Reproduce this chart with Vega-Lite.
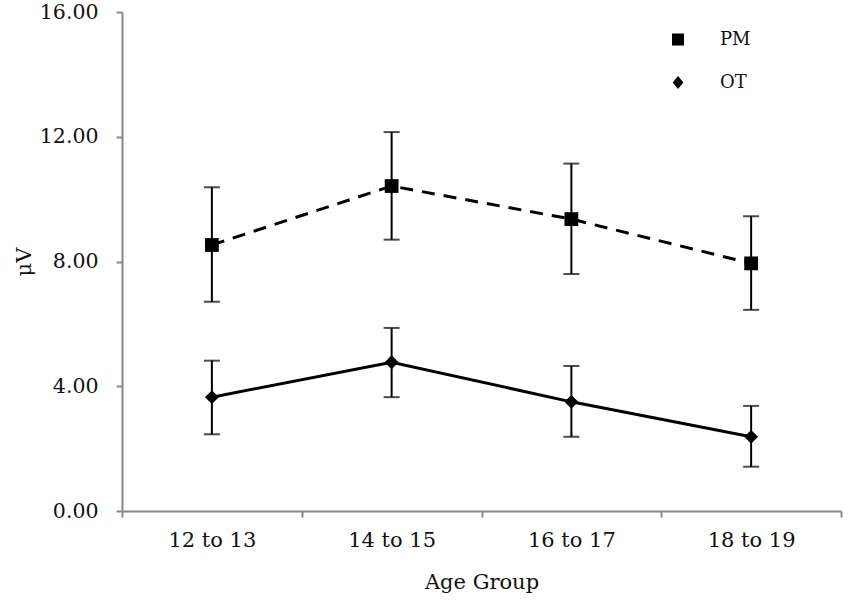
{
  "$schema": "https://vega.github.io/schema/vega-lite/v6.json",
  "width": 719,
  "height": 499,
  "autosize": {"type": "none"},
  "padding": {"left": 122, "top": 12, "right": 9, "bottom": 89},
  "background": "white",
  "data": {
    "values": [
      {"group": "12 to 13", "series": "PM", "mean": 8.53, "lo": 6.71, "hi": 10.38},
      {"group": "14 to 15", "series": "PM", "mean": 10.42, "lo": 8.70, "hi": 12.15},
      {"group": "16 to 17", "series": "PM", "mean": 9.36, "lo": 7.60, "hi": 11.14},
      {"group": "18 to 19", "series": "PM", "mean": 7.94, "lo": 6.45, "hi": 9.45},
      {"group": "12 to 13", "series": "OT", "mean": 3.65, "lo": 2.46, "hi": 4.82},
      {"group": "14 to 15", "series": "OT", "mean": 4.77, "lo": 3.65, "hi": 5.87},
      {"group": "16 to 17", "series": "OT", "mean": 3.50, "lo": 2.38, "hi": 4.65},
      {"group": "18 to 19", "series": "OT", "mean": 2.38, "lo": 1.42, "hi": 3.37}
    ]
  },
  "encoding": {
    "x": {
      "field": "group",
      "type": "ordinal",
      "sort": null,
      "scale": {"type": "band", "paddingInner": 0, "paddingOuter": 0},
      "axis": {
        "title": "Age Group",
        "labelAngle": 0,
        "labelFontSize": 21,
        "labelPadding": 12,
        "tickBand": "extent",
        "titleY": 77,
        "titleBaseline": "alphabetic"
      }
    }
  },
  "layer": [
    {
      "mark": {"type": "rule", "color": "black", "strokeWidth": 2},
      "encoding": {
        "y": {
          "field": "lo",
          "type": "quantitative",
          "scale": {"domain": [0, 16], "nice": false},
          "axis": {
            "title": "μV",
            "values": [0, 4, 8, 12, 16],
            "format": ".2f",
            "labelFontSize": 20.5,
            "labelPadding": 18,
            "titleX": -92,
            "titleBaseline": "alphabetic"
          }
        },
        "y2": {"field": "hi"}
      }
    },
    {
      "mark": {"type": "tick", "color": "black", "size": 16, "thickness": 2},
      "encoding": {"y": {"field": "lo", "type": "quantitative"}}
    },
    {
      "mark": {"type": "tick", "color": "black", "size": 16, "thickness": 2},
      "encoding": {"y": {"field": "hi", "type": "quantitative"}}
    },
    {
      "transform": [{"filter": "datum.series === 'PM'"}],
      "layer": [
        {
          "mark": {"type": "line", "color": "black", "strokeWidth": 3, "strokeDash": [13, 9]},
          "encoding": {"y": {"field": "mean", "type": "quantitative"}}
        },
        {
          "mark": {"type": "point", "shape": "square", "filled": true, "color": "black", "opacity": 1, "size": 190},
          "encoding": {"y": {"field": "mean", "type": "quantitative"}}
        }
      ]
    },
    {
      "transform": [{"filter": "datum.series === 'OT'"}],
      "layer": [
        {
          "mark": {"type": "line", "color": "black", "strokeWidth": 3},
          "encoding": {"y": {"field": "mean", "type": "quantitative"}}
        },
        {
          "mark": {"type": "point", "shape": "diamond", "filled": true, "color": "black", "opacity": 1, "size": 190},
          "encoding": {"y": {"field": "mean", "type": "quantitative"}}
        }
      ]
    },
    {
      "transform": [{"filter": "false"}],
      "mark": {"type": "point", "filled": false, "color": "black", "fill": "black", "opacity": 1, "strokeWidth": 2.5},
      "encoding": {
        "y": {"field": "mean", "type": "quantitative"},
        "shape": {
          "field": "series",
          "scale": {
            "domain": ["PM", "OT"],
            "range": [
              "M-1.675,0H-1.325M1.025,0H1.675M-0.3,-0.3H0.3V0.3H-0.3Z",
              "M-1.675,0H1.675M0,-0.32L0.27,0L0,0.32L-0.27,0Z"
            ]
          },
          "legend": {
            "title": null,
            "orient": "none",
            "legendX": 534.5,
            "legendY": 6,
            "symbolSize": 1600,
            "symbolFillColor": "black",
            "symbolStrokeColor": "black",
            "symbolStrokeWidth": 2.5,
            "symbolOpacity": 1,
            "labelFontSize": 18,
            "labelOffset": 20.5,
            "rowPadding": 10
          }
        }
      }
    }
  ],
  "config": {
    "view": {"stroke": null},
    "font": "DejaVu Serif",
    "axis": {
      "grid": false,
      "domainColor": "#888888",
      "domainWidth": 2,
      "tickColor": "#888888",
      "tickWidth": 2,
      "tickSize": 6,
      "labelColor": "#111111",
      "labelFont": "DejaVu Serif",
      "titleFont": "DejaVu Serif",
      "titleFontSize": 21,
      "titleFontWeight": "normal",
      "titleColor": "#111111"
    },
    "legend": {
      "labelFont": "DejaVu Serif",
      "labelColor": "#111111"
    }
  }
}
